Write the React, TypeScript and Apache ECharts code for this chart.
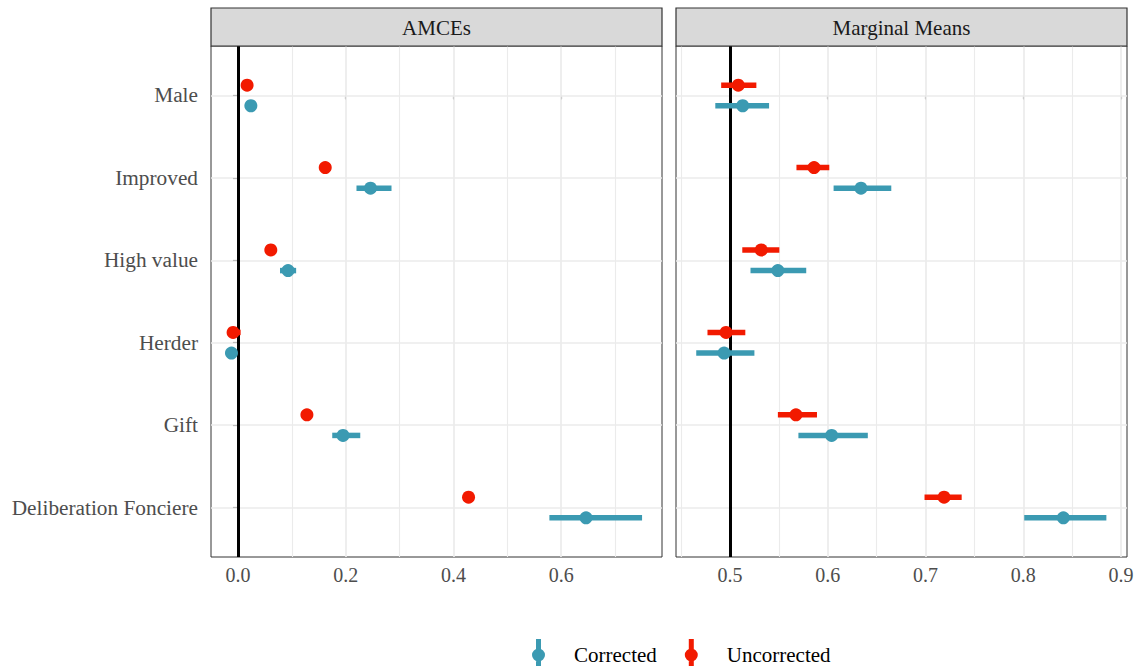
import React, { useEffect, useRef } from "react";
import * as echarts from "echarts";

const categories = ["Male", "Improved", "High value", "Herder", "Gift", "Deliberation Fonciere"];
const groups = ["Corrected", "Uncorrected"];
const panelTitles = ["AMCEs", "Marginal Means"];

const amceCorrectedEst = [0.024, 0.246, 0.093, -0.012, 0.195, 0.646];
const amceCorrectedLow = [0.018, 0.22, 0.078, -0.0125, 0.175, 0.578];
const amceCorrectedHigh = [0.03, 0.285, 0.108, -0.004, 0.227, 0.75];
const amceUncorrectedEst = [0.017, 0.162, 0.061, -0.009, 0.128, 0.428];
const amceUncorrectedLow = [0.012, 0.155, 0.055, -0.012, 0.121, 0.42];
const amceUncorrectedHigh = [0.022, 0.169, 0.067, 0.005, 0.135, 0.436];

const mmCorrectedEst = [0.513, 0.634, 0.549, 0.494, 0.604, 0.841];
const mmCorrectedLow = [0.485, 0.606, 0.521, 0.4655, 0.57, 0.801];
const mmCorrectedHigh = [0.54, 0.665, 0.578, 0.525, 0.641, 0.885];
const mmUncorrectedEst = [0.5085, 0.586, 0.532, 0.496, 0.5675, 0.719];
const mmUncorrectedLow = [0.491, 0.568, 0.5126, 0.477, 0.549, 0.699];
const mmUncorrectedHigh = [0.527, 0.6016, 0.5505, 0.5157, 0.589, 0.737];

const amceTicks = [0, 0.2, 0.4, 0.6];
const mmTicks = [0.5, 0.6, 0.7, 0.8, 0.9];
const amceRange = [-0.05, 0.787];
const mmRange = [0.4448, 0.9061];
const referenceLines = [0, 0.5];

const COLORS: Record<string, string> = { Corrected: "#3B9AB2", Uncorrected: "#F21A00" };
const OFFSETS: Record<string, number> = { Corrected: 0.125, Uncorrected: -0.125 };
const FONT = "Liberation Serif";

const GRIDS = [
  { left: 211, top: 46, width: 451, height: 511 },
  { left: 676, top: 46, width: 451, height: 511 },
];

const legendIcon =
  "path://M4,0 L9,0 L9,32 L4,32 Z M0,16 A6.5,6.5 0 1,1 13,16 A6.5,6.5 0 1,1 0,16 Z";

function rows(est: number[], low: number[], high: number[]) {
  return est.map((e, i) => [e, i, low[i], high[i]]);
}

function minorOf(ticks: number[]) {
  const step = ticks[1] - ticks[0];
  const out: number[] = [];
  for (let i = 0; i < ticks.length; i++) {
    out.push(ticks[i] - step / 2);
  }
  out.push(ticks[ticks.length - 1] + step / 2);
  return out;
}

function pointRange(name: string, gridIndex: number, data: number[][]) {
  const color = COLORS[name];
  const off = OFFSETS[name];
  return {
    type: "custom",
    name,
    xAxisIndex: gridIndex,
    yAxisIndex: gridIndex,
    itemStyle: { color },
    z: 5,
    silent: true,
    encode: { x: 0, y: 1 },
    data,
    renderItem: (params: any, api: any) => {
      const y = api.value(1) + off;
      const c = api.coord([api.value(0), y]);
      const lo = api.coord([api.value(2), y]);
      const hi = api.coord([api.value(3), y]);
      return {
        type: "group",
        children: [
          {
            type: "line",
            shape: { x1: lo[0], y1: c[1], x2: hi[0], y2: c[1] },
            style: { stroke: color, lineWidth: 5.5, lineCap: "butt" },
          },
          {
            type: "circle",
            shape: { cx: c[0], cy: c[1], r: 6.5 },
            style: { fill: color },
          },
        ],
      };
    },
  };
}

function gridLines(gridIndex: number, ticks: number[], range: number[]) {
  const minor = minorOf(ticks).filter((v) => v > range[0] && v < range[1]);
  const major = ticks.filter((v) => v > range[0] && v < range[1]);
  return {
    type: "line",
    xAxisIndex: gridIndex,
    yAxisIndex: gridIndex,
    data: [],
    z: 1,
    silent: true,
    markLine: {
      silent: true,
      symbol: ["none", "none"],
      label: { show: false },
      animation: false,
      lineStyle: { color: "#EBEBEB", type: "solid", width: 1.7 },
      data: [
        ...minor.map((v) => ({ xAxis: v, lineStyle: { color: "#EBEBEB", type: "solid", width: 1.1 } })),
        ...major.map((v) => ({ xAxis: v })),
        ...categories.map((_, i) => ({ yAxis: i })),
      ],
    },
  };
}

function refLine(gridIndex: number, v: number) {
  return {
    type: "line",
    xAxisIndex: gridIndex,
    yAxisIndex: gridIndex,
    data: [],
    z: 3,
    silent: true,
    markLine: {
      silent: true,
      symbol: ["none", "none"],
      label: { show: false },
      animation: false,
      lineStyle: { color: "#000000", type: "solid", width: 3 },
      data: [{ xAxis: v }],
    },
  };
}

function xAxisFor(gridIndex: number, ticks: number[], range: number[]) {
  return {
    type: "value",
    gridIndex,
    min: range[0],
    max: range[1],
    axisLine: { show: false },
    splitLine: { show: false },
    axisTick: {
      show: true,
      customValues: ticks,
      length: 4,
      lineStyle: { color: "#333333", width: 1.1 },
    },
    axisLabel: {
      customValues: ticks,
      formatter: (v: number) => v.toFixed(1),
      fontFamily: FONT,
      fontSize: 20,
      color: "#4D4D4D",
      margin: 8,
    },
  };
}

function yAxisFor(gridIndex: number, showLabels: boolean) {
  const idx = categories.map((_, i) => i);
  return {
    type: "value",
    gridIndex,
    inverse: true,
    min: -0.6,
    max: 5.6,
    axisLine: { show: false },
    splitLine: { show: false },
    axisTick: {
      show: showLabels,
      customValues: idx,
      length: 5,
      lineStyle: { color: "#333333", width: 1.1 },
    },
    axisLabel: {
      show: showLabels,
      customValues: idx,
      formatter: (v: number) => categories[Math.round(v)] ?? "",
      fontFamily: FONT,
      fontSize: 21.3,
      color: "#4D4D4D",
      margin: 13,
    },
  };
}

export default function App() {
  const ref = useRef<HTMLDivElement>(null);
  useEffect(() => {
    const chart = echarts.init(ref.current!, undefined, { renderer: "svg" });
    const option: any = {
      animation: false,
      backgroundColor: "#ffffff",
      grid: GRIDS.map((g) => ({
        ...g,
        show: true,
        borderColor: "#333333",
        borderWidth: 1,
        backgroundColor: "#ffffff",
        containLabel: false,
      })),
      xAxis: [xAxisFor(0, amceTicks, amceRange), xAxisFor(1, mmTicks, mmRange)],
      yAxis: [yAxisFor(0, true), yAxisFor(1, false)],
      legend: {
        left: 527,
        top: 634,
        itemWidth: 13,
        itemHeight: 32,
        itemGap: 28,
        selectedMode: false,
        data: groups.map((n) => ({ name: n, icon: legendIcon })),
        textStyle: { fontFamily: FONT, fontSize: 21, color: "#000000", padding: [0, 0, 0, 24] },
      },
      graphic: GRIDS.flatMap((g, i) => [
        {
          type: "rect",
          shape: { x: g.left, y: 8, width: g.width, height: 38 },
          style: { fill: "#D9D9D9", stroke: "#333333", lineWidth: 1.2 },
          z: 10,
        },
        {
          type: "text",
          x: g.left + g.width / 2,
          y: 28,
          style: {
            text: panelTitles[i],
            fontFamily: FONT,
            fontSize: 21,
            fill: "#1A1A1A",
            align: "center",
            verticalAlign: "middle",
          },
          z: 11,
        },
      ]),
      series: [
        gridLines(0, amceTicks, amceRange),
        gridLines(1, mmTicks, mmRange),
        refLine(0, referenceLines[0]),
        refLine(1, referenceLines[1]),
        pointRange("Corrected", 0, rows(amceCorrectedEst, amceCorrectedLow, amceCorrectedHigh)),
        pointRange("Uncorrected", 0, rows(amceUncorrectedEst, amceUncorrectedLow, amceUncorrectedHigh)),
        pointRange("Corrected", 1, rows(mmCorrectedEst, mmCorrectedLow, mmCorrectedHigh)),
        pointRange("Uncorrected", 1, rows(mmUncorrectedEst, mmUncorrectedLow, mmUncorrectedHigh)),
      ],
    };
    chart.setOption(option);
    return () => chart.dispose();
  }, []);
  return (
    <div
      ref={ref}
      style={{ position: "fixed", left: 0, top: 0, width: 1140, height: 666, background: "#ffffff" }}
    />
  );
}
